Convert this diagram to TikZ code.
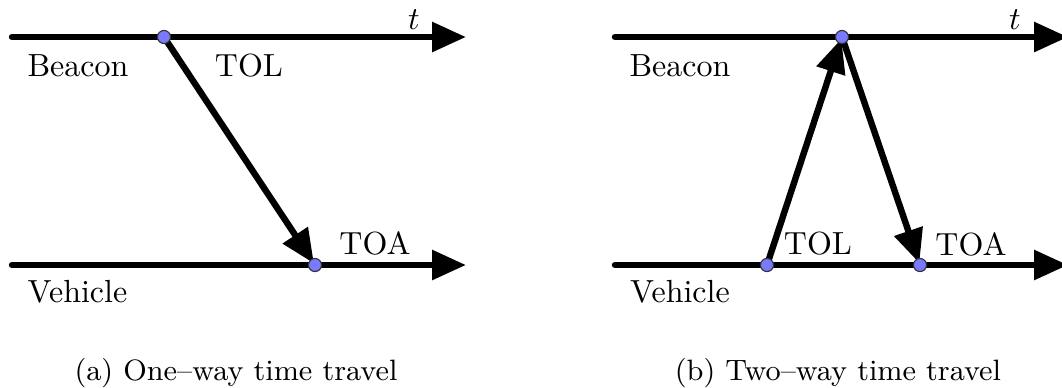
\documentclass[tikz,border=0pt]{standalone}
\usetikzlibrary{arrows.meta}
\definecolor{dotblue}{RGB}{122,122,255}
\begin{document}
\begin{tikzpicture}[x=0.3125pt, y=-0.3125pt,
  axis/.style={line width=2pt, line cap=round, -{Triangle[length=10.6pt,width=9pt]}},
  sig/.style={line width=2pt, -{Triangle[length=10.6pt,width=9pt]}, shorten >=0.6pt},
  dot/.style={circle, draw=black!80, fill=dotblue, line width=0.35pt, inner sep=0pt, minimum size=4.1pt},
  lab/.style={font=\normalsize, inner sep=0pt},
  capt/.style={font=\fontsize{9.2}{11}\selectfont, inner sep=0pt, anchor=base}]
\useasboundingbox (0,0) rectangle (1062,387);
% ---- (a) ----
\coordinate (aB0) at (12,37);
\coordinate (aB1) at (466,37);
\coordinate (aV0) at (12,265);
\coordinate (aV1) at (466,265);
\draw[axis] (aB0) -- (aB1);
\draw[axis] (aV0) -- (aV1);
\coordinate (aS) at (164,37);
\coordinate (aR) at (315,265);
\draw[sig] (aS) -- (aR);
\node[dot] (aSd) at (aS) {};
\node[dot] (aRd) at (aR) {};
\node[lab] (at) at (414,20) {$t$};
\node[lab] (abeacon) at (78,66) {Beacon};
\node[lab] (atol) at (249,66) {TOL};
\node[lab] (atoa) at (375,243) {TOA};
\node[lab] (aveh) at (77.5,292) {Vehicle};
\node[capt] (acap) at (236,380) {(a) One--way time travel};
% ---- (b) ----
\coordinate (bB0) at (615,37);
\coordinate (bB1) at (1068,37);
\coordinate (bV0) at (615,265);
\coordinate (bV1) at (1068,265);
\draw[axis] (bB0) -- (bB1);
\draw[axis] (bV0) -- (bV1);
\coordinate (bL) at (767,265);
\coordinate (bM) at (842,37);
\coordinate (bA) at (920,265);
\draw[sig] (bL) -- (bM);
\draw[sig] (bM) -- (bA);
\node[dot] (bLd) at (bL) {};
\node[dot] (bMd) at (bM) {};
\node[dot] (bAd) at (bA) {};
\node[lab] (bt) at (1015,20) {$t$};
\node[lab] (bbeacon) at (680,66) {Beacon};
\node[lab] (btol) at (818,244) {TOL};
\node[lab] (btoa) at (971,244) {TOA};
\node[lab] (bveh) at (680,292) {Vehicle};
\node[capt] (bcap) at (838,380) {(b) Two--way time travel};
\end{tikzpicture}
\end{document}
